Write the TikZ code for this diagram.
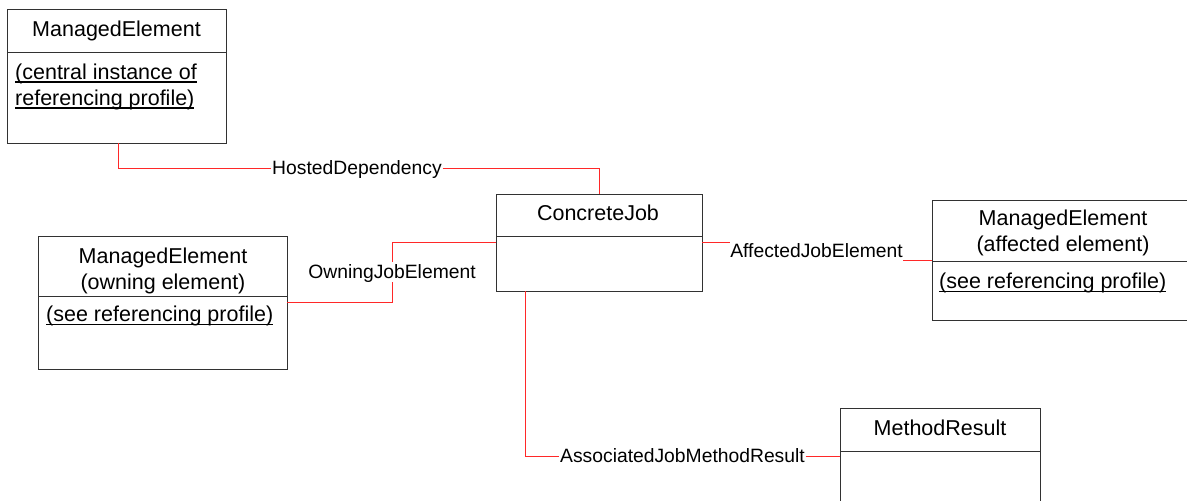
\documentclass[tikz,border=0pt]{standalone}
\usepackage{fontspec}
\setmainfont{Liberation Sans}
\newcommand\myul[1]{\setbox0\hbox{#1}\rlap{\rule[-3.6pt]{\wd0}{1.2pt}}\box0}
\definecolor{boxline}{RGB}{50,50,50}
\definecolor{connred}{RGB}{255,40,40}
\tikzset{
  umlbox/.style={draw=boxline, line width=1pt, fill=white, inner sep=0pt, outer sep=0pt, anchor=north west},
  divider/.style={draw=boxline, line width=1pt},
  conn/.style={draw=connred, line width=1pt},
  ttl/.style={font=\fontsize{21.5}{26}\selectfont, inner sep=0pt, anchor=base, align=center},
  bodytxt/.style={font=\fontsize{21.5}{26}\selectfont, inner sep=0pt, anchor=base west},
  lbl/.style={font=\fontsize{19.3}{23}\selectfont, fill=white, inner xsep=0.6pt, inner ysep=1pt, text height=15pt, text depth=2pt},
}
\begin{document}
\begin{tikzpicture}[x=1pt,y=-1pt]
\useasboundingbox (0,0) rectangle (1187,501);
% boxes
\node[umlbox, minimum width=218.5pt, minimum height=133.5pt] (A) at (7.5,9.5) {};
\draw[divider] ([yshift=-42.5pt]A.north west) -- ([yshift=-42.5pt]A.north east);
\node[umlbox, minimum width=248.5pt, minimum height=133pt] (B) at (38.5,236) {};
\draw[divider] ([yshift=-60pt]B.north west) -- ([yshift=-60pt]B.north east);
\node[umlbox, minimum width=206pt, minimum height=97pt] (C) at (496,194) {};
\draw[divider] ([yshift=-42pt]C.north west) -- ([yshift=-42pt]C.north east);
\node[umlbox, minimum width=258pt, minimum height=120pt] (D) at (932,200) {};
\draw[divider] ([yshift=-61pt]D.north west) -- ([yshift=-61pt]D.north east);
\node[umlbox, minimum width=200pt, minimum height=96pt] (E) at (840,408.5) {};
\draw[divider] ([yshift=-43pt]E.north west) -- ([yshift=-43pt]E.north east);
% texts
\node[ttl] (At) at (116.5,36) {ManagedElement};
\node[bodytxt] (Ab1) at (15,79) {\myul{(central instance of}};
\node[bodytxt] (Ab2) at (15,105) {\myul{referencing profile)}};
\node[ttl] (Bt1) at (163,263.5) {ManagedElement};
\node[ttl] (Bt2) at (163,289) {(owning element)};
\node[bodytxt] (Bb) at (46,321.5) {\myul{(see referencing profile)}};
\node[ttl] (Ct) at (598,220.5) {ConcreteJob};
\node[ttl] (Dt1) at (1063,225.5) {ManagedElement};
\node[ttl] (Dt2) at (1063,251.5) {(affected element)};
\node[bodytxt] (Db) at (939,288.3) {\myul{(see referencing profile)}};
\node[ttl] (Et) at (940,435) {MethodResult};
% labels
\node[lbl] (hd) at (357,168) {HostedDependency};
\node[lbl] (oj) at (392,271.8) {OwningJobElement};
\node[lbl] (aj) at (816.5,250.8) {AffectedJobElement};
\node[lbl] (am) at (682.5,456) {AssociatedJobMethodResult};
% connectors
\draw[conn] ([xshift=1.25pt]A.south) |- (hd.west);
\draw[conn] (hd.east) -| (C.north);
\draw[conn] (B.east) -| (oj.south);
\draw[conn] (oj.north) |- (C.west);
\draw[conn] (C.east) -- (C.east -| aj.west);
\draw[conn] (D.west -| aj.east) -- (D.west);
\draw[conn] ([xshift=-74pt]C.south) |- (am.west);
\draw[conn] (am.east) -- (am.east -| E.west);
\end{tikzpicture}
\end{document}
